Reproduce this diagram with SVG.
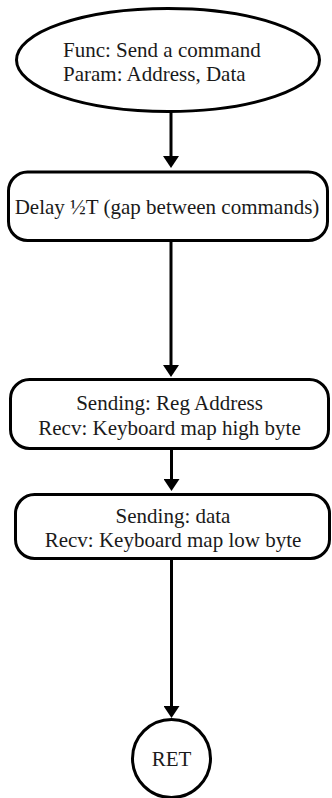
<svg xmlns="http://www.w3.org/2000/svg" width="332" height="798" viewBox="0 0 332 798">
  <style>
    .shape { fill: #ffffff; stroke: #000000; stroke-width: 3; }
    .label { font-family: "Liberation Serif", "Times New Roman", serif; font-size: 21px; fill: #1a1a1a; }
    .mid { text-anchor: middle; }
    .edge { fill: none; stroke: #000000; stroke-width: 3; marker-end: url(#arrow); }
  </style>
  <defs>
    <marker id="arrow" viewBox="0 0 12 16" refX="1" refY="8" markerWidth="12" markerHeight="16" markerUnits="userSpaceOnUse" orient="auto">
      <path d="M0,0 L12,8 L0,16 Z" fill="#000000"/>
    </marker>
  </defs>
  <rect width="332" height="798" fill="#ffffff"/>

  <!-- connectors -->
  <g id="connectors">
    <line class="edge" x1="171" y1="111.5" x2="171" y2="157"/>
    <line class="edge" x1="171" y1="240.5" x2="171" y2="366"/>
    <line class="edge" x1="171.5" y1="448.5" x2="171.5" y2="480"/>
    <line class="edge" x1="171.5" y1="558.5" x2="171.5" y2="707"/>
  </g>

  <!-- entry point -->
  <g id="start">
    <ellipse class="shape" cx="168" cy="60" rx="151.5" ry="51.5"/>
    <text class="label" x="63" y="56.5">Func: Send a command</text>
    <text class="label" x="63" y="81">Param: Address, Data</text>
  </g>

  <g id="delay">
    <rect class="shape" x="8.5" y="172" width="319" height="68.5" rx="19" ry="19"/>
    <text class="label mid" x="167" y="214">Delay ½T (gap between commands)</text>
  </g>

  <g id="send-reg">
    <rect class="shape" x="10.5" y="379.5" width="318" height="69" rx="19" ry="19"/>
    <text class="label mid" x="169.5" y="410">Sending: Reg Address</text>
    <text class="label mid" x="169.5" y="434.5">Recv: Keyboard map high byte</text>
  </g>

  <g id="send-data">
    <rect class="shape" x="15.5" y="494.5" width="314" height="64" rx="19" ry="19"/>
    <text class="label mid" x="173" y="523">Sending: data</text>
    <text class="label mid" x="173" y="546.5">Recv: Keyboard map low byte</text>
  </g>

  <g id="ret">
    <circle class="shape" cx="171.5" cy="758.5" r="39"/>
    <text class="label mid" x="171.5" y="766">RET</text>
  </g>
</svg>
